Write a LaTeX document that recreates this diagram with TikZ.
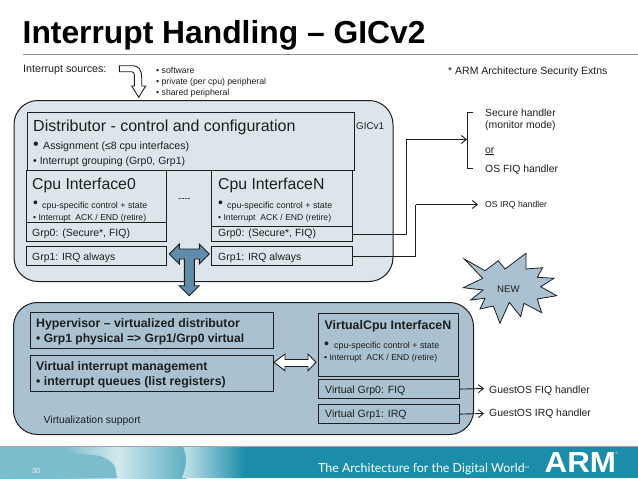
\documentclass[tikz,border=0pt]{standalone}
\usepackage{fontspec}
\setmainfont{Liberation Sans}
\newfontfamily\tagfont{Lato}
\usetikzlibrary{arrows.meta}
\definecolor{gicfill}{HTML}{DBE5EA}
\definecolor{virtfill}{HTML}{A9C1D0}
\definecolor{ink}{HTML}{1E1E1E}
\definecolor{tblue}{HTML}{5F8CAA}
\definecolor{band}{HTML}{1B8DA9}
\definecolor{rulec}{HTML}{9A9488}
\tikzset{
  x=1pt,y=-1pt,
  bigbox/.style={draw=ink,line width=1pt,rounded corners=24pt,anchor=north west,inner sep=0pt},
  gicbox/.style={draw=ink,line width=1.1pt,fill=gicfill,anchor=north west,inner sep=0pt},
  virtbox/.style={draw=ink,line width=1.2pt,fill=virtfill,anchor=north west,inner sep=0pt},
  txt/.style={anchor=base west,inner sep=0pt,text=ink},
  conn/.style={draw=ink,line width=0.9pt},
  tipped/.style={conn,-{Straight Barb[length=5pt,width=8pt,line width=0.9pt]}},
  whitearrow/.style={draw=ink,line width=0.9pt,fill=white,line join=miter},
}
\newcommand{\fs}[1]{\fontsize{#1}{#1}\selectfont}
\begin{document}
\begin{tikzpicture}
\useasboundingbox (0,0) rectangle (638,479);
\fill[white] (0,0) rectangle (638,479);
% title
\node[txt,text=black,font=\fs{31.8}\bfseries] (title) at (22.5,43) {Interrupt Handling – GICv2};
\coordinate (ruleA) at (23,54); \coordinate (ruleB) at (638,54);
\draw[rulec,line width=0.7pt] (ruleA) -- (ruleB);
% footer
\fill[band] (0,446.5) rectangle (638,478);
\shade[left color=white!35!band!70!cyan,right color=white!45!band] (0,446.5) rectangle (66,478);
\shade[left color=white!45!band,right color=white!80!band] (66,446.5) rectangle (118,478);
\shade[left color=white!80!band,right color=white!30!band] (118,446.5) rectangle (186,478);
\fill[white!42!band] (0,446.5) -- (65,446.5) .. controls (75,458) and (95,452) .. (105,458) .. controls (118,465) and (115,470) .. (117,478) -- (0,478) -- cycle;
\shade[left color=white!75!band,right color=band] (183,446.5) .. controls (188,458) and (186,468) .. (182,478) -- (245,478) -- (245,446.5) -- cycle;
\draw[gray!70,line width=0.6pt] (0,446.5) -- (638,446.5);
\node[txt,text=white!90!band,font=\fs{7.5}] (pagenum) at (32,473) {30};
\node[txt,text=white,font=\tagfont\fs{12.4}] (tagline) at (318,472.5) {The Architecture for the Digital World\raisebox{4pt}{\fs{3}SM}};
\node[txt,text=white,font=\fs{29}\bfseries,xscale=1.08] (armlogo) at (544.5,472) {ARM};
\node[txt,text=white!70!band,font=\fs{4}] (armreg) at (615,454) {®};
% interrupt sources
\node[txt,font=\fs{10.7}] (sources) at (23,72) {Interrupt sources:};
\draw[whitearrow] (119.3,65.7) -- (119.3,71.7) -- (131.7,71.7) .. controls (133.5,71.7) and (134.3,73) .. (134.3,75) -- (134.3,86) -- (131.7,86) -- (138.7,97.3) -- (145.7,86) -- (141.7,86) -- (141.7,76.7) .. controls (141.7,70) and (138,65.7) .. (133,65.7) -- cycle;
\node[txt,font=\fs{8.7}] (srcA) at (156,73.5) {• software};
\node[txt,font=\fs{8.7}] (srcB) at (156,84) {• private (per cpu) peripheral};
\node[txt,font=\fs{8.7}] (srcC) at (156,95) {• shared peripheral};
\node[txt,font=\fs{10.5}] (secext) at (448,74.5) {* ARM Architecture Security Extns};
% GIC
\node[bigbox,fill=gicfill,minimum width=379pt,minimum height=181pt] (gic) at (13.5,100) {};
\node[txt,font=\fs{9.8}] (gicv1) at (356,129) {GICv1};
\node[gicbox,minimum width=327pt,minimum height=58pt] (dist) at (26.5,112) {};
\node[txt,font=\fs{16}] (distT) at (33,131) {Distributor - control and configuration};
\node[txt,font=\fs{16}] (distB) at (33,149) {•};
\node[txt,font=\fs{10.6}] (distA) at (43,149.5) {Assignment (≤8 cpu interfaces)};
\node[txt,font=\fs{10.5}] (distC) at (33,164) {• Interrupt grouping (Grp0, Grp1)};
% Cpu 0
\node[gicbox,minimum width=140pt,minimum height=52pt] (cpu0) at (26,170) {};
\node[txt,font=\fs{15.8}] (cpu0T) at (32,189) {Cpu Interface0};
\node[txt,font=\fs{14}] (cpu0B) at (33,207) {•};
\node[txt,font=\fs{8.85}] (cpu0A) at (42,208) {cpu-specific control + state};
\node[txt,font=\fs{8.6}] (cpu0C) at (33,220) {• Interrupt\ \ ACK / END (retire)};
\node[gicbox,minimum width=140pt,minimum height=19pt] (g0a) at (26,222) {};
\node[txt,font=\fs{10.5}] (g0aT) at (32,236) {Grp0: (Secure*, FIQ)};
\node[gicbox,minimum width=140pt,minimum height=19pt] (g1a) at (26,246) {};
\node[txt,font=\fs{10.4}] (g1aT) at (32,260) {Grp1: IRQ always};
\node[txt,font=\fs{9.3}] (dots) at (178,201) {{-}{-}{-}{-}};
% Cpu N
\node[gicbox,minimum width=141pt,minimum height=56pt] (cpuN) at (211,170) {};
\node[txt,font=\fs{15.8}] (cpuNT) at (218,189) {Cpu InterfaceN};
\node[txt,font=\fs{14}] (cpuNB) at (218,207) {•};
\node[txt,font=\fs{8.85}] (cpuNA) at (227,208) {cpu-specific control + state};
\node[txt,font=\fs{8.6}] (cpuNC) at (218,220) {• Interrupt\ \ ACK / END (retire)};
\node[gicbox,minimum width=141pt,minimum height=15pt] (g0n) at (211,226) {};
\node[txt,font=\fs{10.5}] (g0nT) at (218,236) {Grp0: (Secure*, FIQ)};
\node[gicbox,minimum width=141pt,minimum height=19pt] (g1n) at (211,246) {};
\node[txt,font=\fs{10.4}] (g1nT) at (218,260) {Grp1: IRQ always};
% Virtualisation
\node[bigbox,fill=virtfill,minimum width=460pt,minimum height=132pt] (virt) at (13,302) {};
\node[virtbox,minimum width=243pt,minimum height=36pt] (hyp) at (30,312) {};
\node[txt,font=\fs{12.3}\bfseries] (hypA) at (36,327) {Hypervisor – virtualized distributor};
\node[txt,font=\fs{12.1}\bfseries] (hypB) at (36,342.5) {• Grp1 physical => Grp1/Grp0 virtual};
\node[virtbox,minimum width=243pt,minimum height=36pt] (vim) at (30,355) {};
\node[txt,font=\fs{12.3}\bfseries] (vimA) at (36,370) {Virtual interrupt management};
\node[txt,font=\fs{12.3}\bfseries] (vimB) at (36,385) {• interrupt queues (list registers)};
\node[txt,font=\fs{10.4}] (virtL) at (43.5,423) {Virtualization support};
\node[virtbox,minimum width=140pt,minimum height=63pt] (vcpu) at (318,313) {};
\node[txt,font=\fs{12.4}\bfseries] (vcpuT) at (324.5,329) {VirtualCpu InterfaceN};
\node[txt,font=\fs{14}] (vcpuB) at (324,348) {•};
\node[txt,font=\fs{8.85}] (vcpuA) at (334,348) {cpu-specific control + state};
\node[txt,font=\fs{8.6}] (vcpuC) at (324,360) {• Interrupt\ \ ACK / END (retire)};
\node[virtbox,minimum width=141pt,minimum height=19pt] (vg0) at (318,379) {};
\node[txt,font=\fs{10.5}] (vg0T) at (325,393) {Virtual Grp0: FIQ};
\node[virtbox,minimum width=141pt,minimum height=19pt] (vg1) at (318,404) {};
\node[txt,font=\fs{10.5}] (vg1T) at (325,417) {Virtual Grp1: IRQ};
% T arrow
\draw[draw=ink,line width=0.9pt,fill=tblue] (169.3,254) -- (179.3,244) -- (179.3,249) -- (199.3,249) -- (199.3,244) -- (209.3,254) -- (199.3,264) -- (199.3,259) -- (194.3,259) -- (194.3,285.7) -- (199.3,285.7) -- (189.3,295.7) -- (179.3,285.7) -- (184.3,285.7) -- (184.3,259) -- (179.3,259) -- (179.3,264) -- cycle;
% double arrow
\draw[whitearrow] (274,362.3) -- (285,354) -- (285,359.5) -- (308,359.5) -- (308,354) -- (316,362.3) -- (308,370.7) -- (308,366.5) -- (285,366.5) -- (285,370.7) -- cycle;
% handlers
\node[txt,font=\fs{10.4}] (secH) at (485,116) {Secure handler};
\node[txt,font=\fs{10.4}] (monH) at (485,128) {(monitor mode)};
\node[txt,font=\fs{10.4}] (orT) at (485,153) {\underline{or}};
\node[txt,font=\fs{10.4}] (fiqH) at (485,172) {OS FIQ handler};
\node[txt,font=\fs{8.7}] (irqH) at (485,207.5) {OS IRQ handler};
\node[txt,font=\fs{10.4}] (gfiq) at (489,393.5) {GuestOS FIQ handler};
\node[txt,font=\fs{10.4}] (girq) at (489,416) {GuestOS IRQ handler};
% connectors
\coordinate (braceT) at (473,112); \coordinate (braceB) at (473,168);
\coordinate (braceM) at (467,139.5);
\coordinate (fiqTurn) at (406.5,139.5);
\coordinate (irqTurn) at (415.5,204.5);
\coordinate (irqEnd) at (478,204.5);
\draw[conn] (braceT) -- ++(-6,0) -- ++(0,56) -- (braceB);
\draw[tipped] (g0n.east) -| (fiqTurn) -- (braceM);
\draw[conn] (g1n.east) -| (irqTurn);
\draw[tipped] (irqTurn) -- (irqEnd);
\coordinate (gfiqEnd) at (484,388.5);
\coordinate (girqEnd) at (484,413.5);
\draw[tipped] (vg0.east) -- (gfiqEnd);
\draw[tipped] (vg1.east) -- (girqEnd);
% star
\draw[draw=ink,line width=0.8pt,fill=virtfill,line join=miter,miter limit=20]
  (464.3,259) -- (485,270.7) -- (498.3,260.7) -- (505,269) -- (526,253.3) -- (526,269) -- (542.7,267.7) -- (537.3,277.3) -- (554,278.3) -- (540.7,286.7) -- (556.7,295.7) -- (537.3,299) -- (541.7,312.7) -- (524,303.3) -- (520.7,316.7) -- (509.3,302.3) -- (500,323.3) -- (493.3,306) -- (480,309) -- (485,298.3) -- (470.7,300) -- (483,290) -- (463.3,287.7) -- (482.7,278.3) -- cycle;
\node[txt,font=\fs{9.6}] (newT) at (497,292) {NEW};
\end{tikzpicture}
\end{document}
